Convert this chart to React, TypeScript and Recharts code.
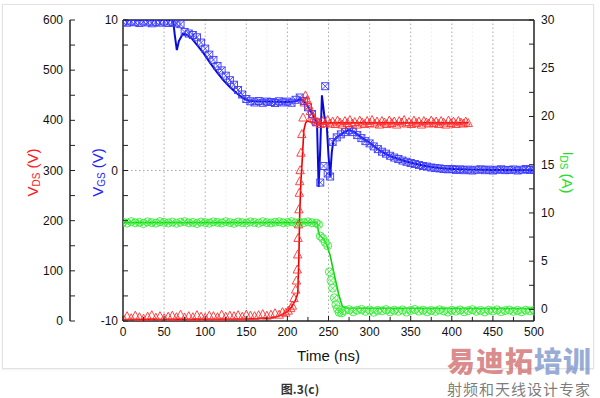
import React from 'react';
import { ComposedChart, Line, XAxis, YAxis, ReferenceLine } from 'recharts';

type Pt = [number, number];

// ---- axis ticks ----
const timeTicks = [0, 25, 50, 75, 100, 125, 150, 175, 200, 225, 250, 275, 300, 325, 350, 375, 400, 425, 450, 475, 500];
const vdsTicks = [0, 50, 100, 150, 200, 250, 300, 350, 400, 450, 500, 550, 600];
const vgsTicks = [-10, -8.333, -6.667, -5, -3.333, -1.667, 0, 1.667, 3.333, 5, 6.667, 8.333, 10];
const idsTicks = [0, 2.5, 5, 7.5, 10, 12.5, 15, 17.5, 20, 22.5, 25, 27.5, 30];
const majorGridTimes = [50, 100, 150, 200, 250, 300, 350, 400, 450];
const minorGridTimes = [25, 75, 125, 175, 225, 275, 325, 375, 425, 475];

// ---- VGS (blue) ----
const vgsSimulated: Pt[] = [
  [0, 10], [61, 10], [63, 9.0], [65.5, 8.0], [68, 8.6], [73, 9.1], [78, 9.0], [84, 8.75], [90, 8.35],
  [98, 7.8], [106, 7.15], [114, 6.55], [122, 6.0], [130, 5.55], [138, 5.15], [146, 4.8], [152, 4.65],
  [160, 4.6], [200, 4.55], [210, 4.6], [216, 4.75], [222, 4.5], [228, 4.0], [233, 3.5], [236, 3.2],
  [238, -1.1], [240, 1.5], [242, 5.0], [245, 3.6], [248, 2.9], [250, 1.0], [252, -0.4], [254, 1.2],
  [256, 2.0], [261, 2.25], [268, 2.5], [274, 2.7], [280, 2.6], [290, 2.2], [300, 1.85], [313, 1.3],
  [325, 0.95], [334, 0.78], [345, 0.6], [354, 0.47], [365, 0.33], [375, 0.24], [385, 0.17], [395, 0.12],
  [420, 0.06], [450, 0.03], [500, 0.02],
];
const vgsMeasured: Pt[] = [
  [0, 9.88], [5, 9.82], [10, 9.9], [15, 9.85], [20, 9.8], [25, 9.9], [30, 9.84], [35, 9.78], [40, 9.88],
  [45, 9.82], [50, 9.9], [55, 9.8], [60, 9.86], [65, 9.78], [70, 9.72], [75, 9.2], [80, 9.1], [85, 9.0],
  [90, 8.85], [95, 8.5], [100, 8.1], [105, 7.7], [110, 7.35], [115, 6.95], [120, 6.65], [125, 6.3],
  [130, 6.0], [135, 5.7], [140, 5.35], [145, 5.05], [150, 4.75], [155, 4.6], [160, 4.52], [165, 4.62],
  [170, 4.5], [175, 4.58], [180, 4.55], [185, 4.48], [190, 4.6], [195, 4.52], [200, 4.58], [205, 4.5],
  [210, 4.7], [215, 4.85], [220, 4.62], [225, 4.2], [230, 3.75], [235, 3.2], [240, -0.8], [244, 0.3],
  [246, 5.6], [249, -0.2], [252, -0.4], [255, 1.9], [260, 2.2], [265, 2.4], [270, 2.55], [275, 2.7],
  [280, 2.55], [285, 2.35], [290, 2.15], [295, 1.95], [300, 1.8], [305, 1.6], [310, 1.42], [315, 1.25],
  [320, 1.12], [325, 0.98], [330, 0.86], [335, 0.76], [340, 0.66], [345, 0.58], [350, 0.5], [355, 0.43],
  [360, 0.36], [365, 0.3], [370, 0.26], [375, 0.2], [380, 0.16], [385, 0.14], [390, 0.1], [395, 0.08],
  [400, 0.1], [405, 0.04], [410, 0.08], [415, 0.02], [420, 0.06], [425, 0.0], [430, 0.05], [435, 0.08],
  [440, 0.02], [445, 0.06], [450, 0.0], [455, 0.05], [460, 0.08], [465, 0.02], [470, 0.04], [475, 0.07],
  [480, 0.0], [485, 0.05], [490, 0.1], [495, 0.03], [500, 0.06],
];

// ---- VDS (red) ----
const vdsSimulated: Pt[] = [
  [0, 3], [150, 4], [180, 6], [188, 9], [195, 14], [200, 19], [205, 28], [210, 42], [212.6, 55],
  [213.8, 115], [215, 215], [216.5, 280], [218, 320], [220, 380], [222, 394], [224, 399], [228, 397],
  [240, 395], [300, 395], [420, 395],
];
const vdsMeasured: Pt[] = [
  [0, 6], [5, 9], [10, 5], [15, 10], [20, 7], [25, 4], [30, 8], [35, 11], [40, 6], [45, 9], [50, 5],
  [55, 8], [60, 10], [65, 7], [70, 12], [75, 6], [80, 9], [85, 7], [90, 11], [95, 8], [100, 6], [105, 10],
  [110, 9], [115, 7], [120, 12], [125, 8], [130, 10], [135, 9], [140, 11], [145, 8], [150, 12], [155, 10],
  [160, 9], [165, 11], [170, 13], [175, 10], [180, 12], [185, 15], [190, 12], [194, 17], [198, 16],
  [201, 20], [204, 25], [206, 30], [208, 45], [210, 62], [211, 80], [212, 102], [212.5, 132], [213, 165],
  [213.5, 192], [214, 222], [214.5, 255], [215, 278], [215.5, 300], [216.5, 335], [217.5, 372], [219, 405],
  [220.5, 435], [222, 449], [224, 440], [226, 429], [228, 418], [230, 409], [232, 403], [234, 399],
  [237, 396], [240, 392], [243, 398], [246, 394], [249, 400], [252, 393], [255, 397], [258, 392],
  [261, 399], [264, 395], [267, 391], [270, 398], [273, 394], [276, 400], [279, 393], [282, 396],
  [285, 391], [288, 399], [291, 395], [294, 392], [297, 398], [300, 394], [303, 400], [306, 393],
  [309, 397], [312, 391], [315, 398], [318, 395], [321, 392], [324, 399], [327, 394], [330, 397],
  [333, 391], [336, 398], [339, 395], [342, 400], [345, 393], [348, 396], [351, 392], [354, 399],
  [357, 394], [360, 397], [363, 391], [366, 398], [369, 395], [372, 393], [375, 399], [378, 394],
  [381, 397], [384, 392], [387, 398], [390, 395], [393, 391], [396, 399], [399, 394], [402, 397],
  [405, 392], [408, 398], [411, 395], [414, 393], [417, 397], [420, 394],
];

// ---- IDS (green) ----
const idsSimulated: Pt[] = [
  [0, 9.0], [236, 9.0], [237.5, 8.2], [239, 7.7], [244, 7.3], [248, 6.7], [252, 5.6], [257, 3.6],
  [262.6, 1.5], [266.7, 0.35], [270, 0.15], [300, 0.12], [500, 0.1],
];
const idsMeasured: Pt[] = [
  [0, 9.05], [5, 8.95], [10, 9.1], [15, 8.98], [20, 9.02], [25, 8.9], [30, 9.08], [35, 9.0], [40, 8.94],
  [45, 9.1], [50, 9.02], [55, 8.96], [60, 9.06], [65, 8.92], [70, 9.04], [75, 9.1], [80, 8.98], [85, 9.02],
  [90, 8.9], [95, 9.06], [100, 9.0], [105, 8.94], [110, 9.08], [115, 9.02], [120, 8.96], [125, 9.1],
  [130, 9.0], [135, 8.92], [140, 9.06], [145, 9.0], [150, 8.96], [155, 9.08], [160, 9.02], [165, 8.94],
  [170, 9.1], [175, 9.0], [180, 8.96], [185, 9.04], [190, 9.08], [195, 8.98], [200, 9.02], [205, 9.1],
  [210, 8.96], [215, 9.04], [220, 9.0], [225, 9.08], [230, 8.98], [235, 8.95], [238, 8.8], [240, 7.6],
  [243, 7.35], [246, 6.95], [249, 6.6], [251, 3.9], [253, 3.0], [255, 2.2], [257, 1.2], [259, 0.5],
  [261, 0.05], [263, -0.3], [266, -0.35], [270, -0.1], [275, -0.02], [280, -0.25], [285, -0.08],
  [290, 0.0], [295, -0.2], [300, -0.05], [305, -0.3], [310, -0.1], [315, -0.15], [320, -0.02],
  [325, -0.25], [330, -0.08], [335, -0.2], [340, -0.05], [345, -0.28], [350, -0.1], [355, 0.0],
  [360, -0.18], [365, -0.08], [370, -0.25], [375, -0.1], [380, -0.2], [385, -0.04], [390, -0.15],
  [395, -0.28], [400, -0.08], [405, -0.18], [410, -0.05], [415, -0.25], [420, -0.12], [425, -0.02],
  [430, -0.2], [435, -0.1], [440, -0.26], [445, -0.08], [450, -0.16], [455, -0.04], [460, -0.24],
  [465, -0.12], [470, -0.06], [475, -0.2], [480, -0.1], [485, -0.25], [490, -0.08], [495, -0.15],
  [500, -0.1],
];

const toRows = (pts: Pt[]) => pts.map(([t, v]) => ({ t, v }));

const FONT = 'Liberation Sans, Arial, Helvetica, sans-serif';
const AXIS_COLOR = '#222';
const RED = '#ff1a1a';
const BLUE = '#1f1fff';
const GREEN = '#22e022';

// axis ids: the alphabetically-first left axis is placed next to the plot
const VGS_ID = 'a-vgs';
const VDS_ID = 'b-vds';
const IDS_ID = 'c-ids';

// ---- marker shapes ----
const Triangle = ({ cx, cy }: { cx: number; cy: number }) => (
  <polygon
    points={`${cx},${cy - 4.8} ${cx - 4.2},${cy + 3.2} ${cx + 4.2},${cy + 3.2}`}
    fill="none"
    stroke="#ff3030"
    strokeWidth={0.9}
  />
);
const BoxX = ({ cx, cy }: { cx: number; cy: number }) => (
  <g stroke="#3a3aff" strokeWidth={0.9} fill="none">
    <rect x={cx - 3.5} y={cy - 3.5} width={7} height={7} />
    <line x1={cx - 3.5} y1={cy - 3.5} x2={cx + 3.5} y2={cy + 3.5} />
    <line x1={cx - 3.5} y1={cy + 3.5} x2={cx + 3.5} y2={cy - 3.5} />
  </g>
);
const CircleX = ({ cx, cy }: { cx: number; cy: number }) => (
  <g stroke="#33ee33" strokeWidth={0.9} fill="none">
    <circle cx={cx} cy={cy} r={4} />
    <line x1={cx - 2.8} y1={cy - 2.8} x2={cx + 2.8} y2={cy + 2.8} />
    <line x1={cx - 2.8} y1={cy + 2.8} x2={cx + 2.8} y2={cy - 2.8} />
  </g>
);
const dotWith = (Shape: any, prefix: string) => (p: any) =>
  p.cx == null || p.cy == null ? (
    <g key={`${prefix}-${p.index}`} />
  ) : (
    <Shape key={`${prefix}-${p.index}`} cx={p.cx} cy={p.cy} />
  );

// ---- tick renderers ----
const isMult = (v: number, m: number) => Math.abs(v / m - Math.round(v / m)) < 1e-3;

const leftTick = (margin: number, labelEvery: number, len: number) => (props: any) => {
  const { x, y, payload } = props;
  const axisX = x + margin;
  const major = isMult(payload.value, labelEvery);
  return (
    <g>
      <line x1={axisX} x2={axisX + len} y1={y} y2={y} stroke={AXIS_COLOR} strokeWidth={1} />
      {major && (
        <text x={x} y={y} textAnchor="end" dominantBaseline="central" fontSize={12} fontFamily={FONT} fill="#111">
          {Math.round(payload.value)}
        </text>
      )}
    </g>
  );
};
const rightTick = (margin: number, labelEvery: number, len: number) => (props: any) => {
  const { x, y, payload } = props;
  const axisX = x - margin;
  const major = isMult(payload.value, labelEvery);
  return (
    <g>
      <line x1={axisX} x2={axisX - len} y1={y} y2={y} stroke={AXIS_COLOR} strokeWidth={1} />
      {major && (
        <text x={x} y={y} textAnchor="start" dominantBaseline="central" fontSize={12} fontFamily={FONT} fill="#111">
          {Math.round(payload.value)}
        </text>
      )}
    </g>
  );
};
const bottomTick = (margin: number, labelEvery: number) => (props: any) => {
  const { x, y, payload } = props;
  const axisY = y - margin;
  const major = isMult(payload.value, labelEvery);
  return (
    <g>
      <line x1={x} x2={x} y1={axisY} y2={axisY - (major ? 5 : 4)} stroke={AXIS_COLOR} strokeWidth={1} />
      {major && (
        <text x={x} y={y} dy="0.71em" textAnchor="middle" fontSize={12} fontFamily={FONT} fill="#111">
          {payload.value}
        </text>
      )}
    </g>
  );
};

// ---- axis titles ----
const vTitle = (main: string, sub: string, unit: string, color: string, dx: number, rot: number) => (props: any) => {
  const vb = props.viewBox || {};
  const cx = vb.x + dx;
  const cy = vb.y + vb.height / 2 + 2;
  return (
    <text
      x={cx}
      y={cy}
      transform={`rotate(${rot} ${cx} ${cy})`}
      textAnchor="middle"
      dominantBaseline="central"
      fontSize={15}
      fontFamily={FONT}
      fill={color}
    >
      {main}
      <tspan fontSize={10} dy={4}>{sub}</tspan>
      <tspan dy={-4}>{unit}</tspan>
    </text>
  );
};
const timeTitle = (props: any) => {
  const vb = props.viewBox || {};
  return (
    <text x={vb.x + vb.width / 2} y={vb.y + 40} textAnchor="middle" fontSize={15} fontFamily={FONT} fill="#111">
      Time (ns)
    </text>
  );
};

export default function App() {
  return (
    <div
      style={{
        position: 'absolute',
        left: 0,
        top: 0,
        width: 600,
        height: 398,
        background: '#fff',
        overflow: 'hidden',
        fontFamily: FONT,
      }}
    >
      <div
        style={{
          position: 'absolute',
          left: 2,
          top: 4,
          width: 592,
          height: 365,
          border: '1px solid #e2e2e2',
          boxShadow: '0 1px 2px rgba(0,0,0,0.06)',
          boxSizing: 'border-box',
        }}
      />
      <div style={{ position: 'absolute', left: 0, top: 0 }}>
        <ComposedChart width={600} height={398} margin={{ top: 20, right: 26, bottom: 37, left: 10 }}>
          <XAxis
            dataKey="t"
            type="number"
            domain={[0, 500]}
            ticks={timeTicks}
            interval={0}
            allowDataOverflow
            height={40}
            tickSize={0}
            tickMargin={6}
            tickLine={false}
            axisLine={{ stroke: AXIS_COLOR, strokeWidth: 1.5 }}
            tick={bottomTick(6, 50)}
            label={timeTitle}
          />
          <YAxis
            yAxisId={VGS_ID}
            orientation="left"
            type="number"
            domain={[-10, 10]}
            ticks={vgsTicks}
            interval={0}
            allowDataOverflow
            width={53}
            tickSize={0}
            tickMargin={5}
            tickLine={false}
            axisLine={{ stroke: AXIS_COLOR, strokeWidth: 1.5 }}
            tick={leftTick(5, 10, 5)}
            label={vTitle('V', 'GS', ' (V)', BLUE, 27, -90)}
          />
          <YAxis
            yAxisId={VDS_ID}
            orientation="left"
            type="number"
            domain={[0, 600]}
            ticks={vdsTicks}
            interval={0}
            allowDataOverflow
            width={60}
            tickSize={0}
            tickMargin={7}
            tickLine={false}
            axisLine={{ stroke: AXIS_COLOR, strokeWidth: 1.5 }}
            tick={leftTick(7, 100, 5)}
            label={vTitle('V', 'DS', ' (V)', RED, 22, -90)}
          />
          <YAxis
            yAxisId={IDS_ID}
            orientation="right"
            type="number"
            domain={[-1.2, 30]}
            ticks={idsTicks}
            interval={0}
            allowDataOverflow
            width={40}
            tickSize={0}
            tickMargin={7}
            tickLine={false}
            axisLine={{ stroke: AXIS_COLOR, strokeWidth: 1.5 }}
            tick={rightTick(7, 5, 5)}
            label={vTitle('I', 'DS', ' (A)', GREEN, 34, 90)}
          />

          {minorGridTimes.map((t) => (
            <ReferenceLine key={`mg${t}`} yAxisId={VGS_ID} x={t} stroke="#ececec" strokeDasharray="1.5 2.5" />
          ))}
          {majorGridTimes.map((t) => (
            <ReferenceLine key={`g${t}`} yAxisId={VGS_ID} x={t} stroke="#a8a8a8" strokeDasharray="1.5 2.5" />
          ))}
          <ReferenceLine yAxisId={VGS_ID} y={0} stroke="#a8a8a8" strokeDasharray="1.5 2.5" />
          <ReferenceLine yAxisId={VGS_ID} y={10} stroke={AXIS_COLOR} strokeWidth={1.5} />

          <Line
            yAxisId={IDS_ID}
            data={toRows(idsMeasured)}
            dataKey="v"
            stroke="none"
            dot={dotWith(CircleX, 'g')}
            isAnimationActive={false}
          />
          <Line
            yAxisId={IDS_ID}
            data={toRows(idsSimulated)}
            dataKey="v"
            type="linear"
            stroke="#12d012"
            strokeWidth={1.6}
            dot={false}
            isAnimationActive={false}
          />
          <Line
            yAxisId={VGS_ID}
            data={toRows(vgsMeasured)}
            dataKey="v"
            stroke="none"
            dot={dotWith(BoxX, 'b')}
            isAnimationActive={false}
          />
          <Line
            yAxisId={VGS_ID}
            data={toRows(vgsSimulated)}
            dataKey="v"
            type="linear"
            stroke="#0a0ad8"
            strokeWidth={2}
            dot={false}
            isAnimationActive={false}
          />
          <Line
            yAxisId={VDS_ID}
            data={toRows(vdsMeasured)}
            dataKey="v"
            stroke="none"
            dot={dotWith(Triangle, 'r')}
            isAnimationActive={false}
          />
          <Line
            yAxisId={VDS_ID}
            data={toRows(vdsSimulated)}
            dataKey="v"
            type="linear"
            stroke="#ee0000"
            strokeWidth={1.6}
            dot={false}
            isAnimationActive={false}
          />
        </ComposedChart>
      </div>

      <div
        style={{
          position: 'absolute',
          left: 0,
          top: 382,
          width: 600,
          textAlign: 'center',
          fontSize: 12,
          lineHeight: '13px',
          fontWeight: 'bold',
          color: '#333',
          fontFamily: '"Noto Sans CJK SC", ' + FONT,
        }}
      >
        图.3(c)
      </div>

      <div
        style={{
          position: 'absolute',
          left: 447,
          top: 346,
          fontFamily: '"Noto Sans CJK SC", sans-serif',
          whiteSpace: 'nowrap',
        }}
      >
        <div style={{ fontSize: 28, lineHeight: '28px', height: 28, fontWeight: 900, letterSpacing: 1 }}>
          <span style={{ color: 'rgba(205,95,95,0.72)' }}>易迪拓</span>
          <span style={{ color: 'rgba(120,145,200,0.75)' }}>培训</span>
        </div>
        <div style={{ fontSize: 15, lineHeight: '15px', color: 'rgba(100,100,100,0.85)', marginTop: 7, letterSpacing: 1 }}>
          射频和天线设计专家
        </div>
      </div>
    </div>
  );
}
